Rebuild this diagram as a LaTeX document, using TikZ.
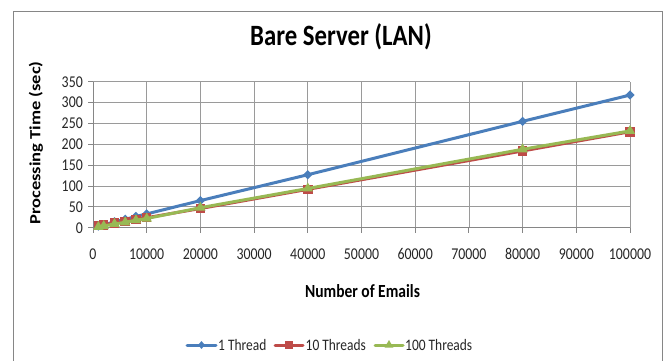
\documentclass[tikz,border=0pt]{standalone}
\usepackage{fontspec}
\setmainfont{Carlito}
\usepackage{graphicx}
\usetikzlibrary{shapes.geometric,calc}

\definecolor{oneC}{HTML}{4A7EBB}
\definecolor{tenC}{HTML}{BE4B48}
\definecolor{hunC}{HTML}{98B954}
\definecolor{gridC}{HTML}{9A9A9A}
\definecolor{frameC}{HTML}{868686}
\definecolor{labelC}{HTML}{262626}

% Office-style text is set slightly condensed
\newcommand{\narrowtxt}[1]{\scalebox{0.84}[1]{#1}}
\newcommand{\narrowrot}[1]{\scalebox{1}[0.84]{#1}}

\tikzset{
  gridline/.style={draw=gridC, line width=0.8bp},
  axisline/.style={draw=frameC, line width=0.9bp},
  ticklabel/.style={text=labelC, inner sep=0pt, font=\fontsize{16.5bp}{19bp}\selectfont},
  axistitle/.style={text=black, inner sep=0pt, font=\bfseries\fontsize{18.5bp}{21bp}\selectfont},
  serieline/.style={line width=3bp, line join=round, line cap=round},
  dmark/.style={diamond, fill=oneC, inner sep=0pt, minimum width=9.5bp, minimum height=9.5bp},
  smark/.style={rectangle, fill=tenC, inner sep=0pt, minimum size=9.5bp},
  tmark/.style={regular polygon, regular polygon sides=3, fill=hunC, inner sep=0pt, minimum size=12bp},
  legtext/.style={anchor=west, inner sep=0pt, text=labelC, font=\fontsize{16bp}{19bp}\selectfont},
}

\begin{document}
\begin{tikzpicture}[x=1bp, y=-1bp]
\useasboundingbox (0,0) rectangle (667,360);
\fill[white] (0,0) rectangle (667,360);

% chart area border
\draw[frameC, line width=1bp] (13.5,362) -- (13.5,11.5) -- (662,11.5) -- (662,362);

% title
\node[inner sep=0pt, font=\bfseries\fontsize{29.5bp}{34bp}\selectfont] (title) at (341,37) {\narrowtxt{Bare Server (LAN)}};

% plot area: x in thousands of e-mails, y in seconds
\begin{scope}[shift={(93,227.7)}, x=5.37bp, y=0.41714bp]
  \foreach \i in {10,20,...,100} \draw[gridline] (\i,0) -- (\i,350);
  \foreach \j in {50,100,...,350} \draw[gridline] (0,\j) -- (100,\j);
  \draw[axisline] (0,350) -- (0,0) -- (100,0);
  \foreach \i in {0,10,...,100} \draw[axisline] (\i,0) -- ++(0pt,-5bp);
  \foreach \j in {0,50,...,350} \draw[axisline] (0,\j) -- ++(-5bp,0pt);

  \foreach \i/\t in {0/0,10/10000,20/20000,30/30000,40/40000,50/50000,60/60000,70/70000,80/80000,90/90000,100/100000}
    \node[ticklabel] (xl\i) at ([yshift=-26bp]\i,0) {\narrowtxt{\t}};
  \foreach \j in {0,50,...,350}
    \node[ticklabel, anchor=east] (yl\j) at ([xshift=-10bp]0,\j) {\narrowtxt{\j}};

  % data points
  \foreach \x/\y [count=\k] in {1/4,2/7,4/14,6/20,8/27,10/33,20/65,40/127,80/255,100/318}
    \coordinate (a\k) at (\x,\y);
  \foreach \x/\y [count=\k] in {1/5,2/7,4/11,6/15,8/20,10/24,20/46,40/92,80/184,100/230}
    \coordinate (b\k) at (\x,\y);
  \foreach \x/\y [count=\k] in {1/2,2/4,4/9,6/13,8/18,10/22,20/48,40/94,80/188,100/232}
    \coordinate (c\k) at (\x,\y);

  % series
  \draw[serieline, oneC] (a1) \foreach \k in {2,...,10} { -- (a\k) };
  \foreach \k in {1,...,10} \node[dmark] (ma\k) at (a\k) {};
  \draw[serieline, tenC] (b1) \foreach \k in {2,...,10} { -- (b\k) };
  \foreach \k in {1,...,10} \node[smark] (mb\k) at (b\k) {};
  \draw[serieline, hunC] (c1) \foreach \k in {2,...,10} { -- (c\k) };
  \foreach \k in {1,...,10} \node[tmark] (mc\k) at (c\k) {};
\end{scope}

% axis titles
\node[axistitle] (xtitle) at (362.5,291) {\narrowtxt{Number of Emails}};
\node[axistitle, rotate=90] (ytitle) at (36,143) {\narrowrot{Processing Time (sec)}};

% legend
\coordinate (la0) at (187,345); \coordinate (la1) at (216,345);
\coordinate (lb0) at (275,345); \coordinate (lb1) at (303,345);
\coordinate (lc0) at (375,345); \coordinate (lc1) at (403,345);
\draw[serieline, oneC] (la0) -- (la1);
\node[dmark, minimum width=7bp, minimum height=8bp] (lma) at ($(la0)!0.5!(la1)$) {};
\draw[serieline, tenC] (lb0) -- (lb1);
\node[smark, minimum size=8.5bp] (lmb) at ($(lb0)!0.5!(lb1)$) {};
\draw[serieline, hunC] (lc0) -- (lc1);
\node[tmark, minimum size=10bp] (lmc) at ($(lc0)!0.5!(lc1)$) {};
\node[legtext] (lta) at (218,345) {\narrowtxt{1 Thread}};
\node[legtext] (ltb) at (305.5,345) {\narrowtxt{10 Threads}};
\node[legtext] (ltc) at (405,345) {\narrowtxt{100 Threads}};
\end{tikzpicture}
\end{document}
